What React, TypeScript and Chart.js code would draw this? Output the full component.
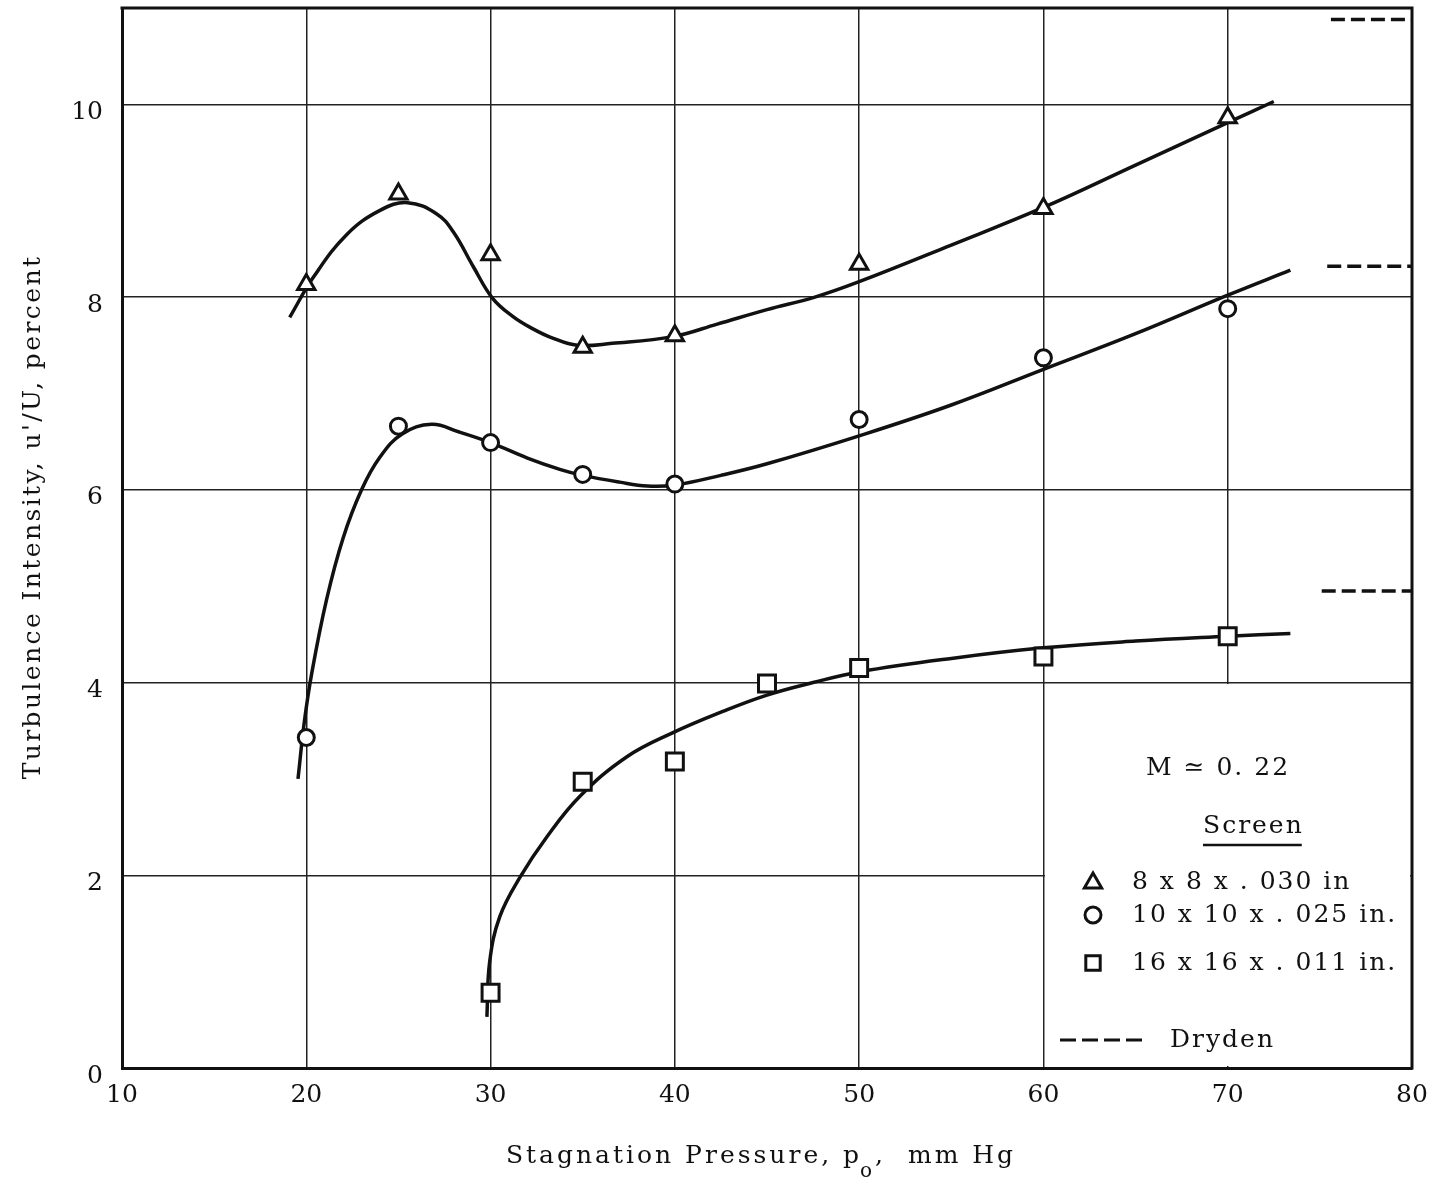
import React, { useEffect, useRef } from 'react';
import { Chart, registerables } from 'chart.js';

Chart.register(...registerables);

// ---- axis ticks ----
const xTicks = [10, 20, 30, 40, 50, 60, 70, 80];
const yTicks = [0, 2, 4, 6, 8, 10];

// ---- measured points (stagnation pressure, turbulence %) ----
const triX = [20, 25, 30, 35, 40, 50, 60, 70];
const triY = [8.13, 9.07, 8.44, 7.48, 7.6, 8.34, 8.92, 9.86];

const circX = [20, 25, 30, 35, 40, 50, 60, 70];
const circY = [3.43, 6.66, 6.49, 6.16, 6.06, 6.73, 7.37, 7.88];

const sqX = [30, 35, 40, 45, 50, 60, 70];
const sqY = [0.78, 2.97, 3.18, 3.99, 4.15, 4.27, 4.48];

// ---- faired curves ----
const triCurveX = [19.1, 20.4, 22.2, 24.0, 25.5, 27.1, 28.0, 29.05, 30.1, 31.2, 32.3, 33.3, 34.7, 36.6, 39.9, 42.3, 45.0, 47.6, 50, 55, 60, 65, 70, 72.5];
const triCurveY = [7.79, 8.21, 8.65, 8.9, 8.98, 8.86, 8.67, 8.32, 7.99, 7.8, 7.67, 7.58, 7.5, 7.52, 7.59, 7.72, 7.87, 8.0, 8.16, 8.54, 8.93, 9.37, 9.81, 10.03];

const circCurveX = [19.55, 19.9, 20.3, 21.1, 22.0, 23.0, 24.0, 25.2, 26.8, 28.3, 30, 32, 33.8, 35, 37, 38.5, 40, 42.5, 45, 50, 55, 60, 65, 70, 73.4];
const circCurveY = [3.0, 3.6, 4.1, 4.86, 5.5, 6.0, 6.34, 6.58, 6.68, 6.6, 6.49, 6.33, 6.21, 6.15, 6.08, 6.04, 6.05, 6.15, 6.27, 6.56, 6.88, 7.25, 7.62, 8.02, 8.28];

const sqCurveX = [29.8, 29.95, 30.5, 31.6, 33.06, 34.85, 37.4, 39.9, 42.6, 45, 47.5, 50, 55, 60, 65, 70, 73.4];
const sqCurveY = [0.53, 1.1, 1.57, 1.98, 2.4, 2.82, 3.23, 3.48, 3.7, 3.87, 4.0, 4.11, 4.25, 4.36, 4.43, 4.48, 4.51];

// ---- Dryden reference levels (short dashes at right edge) ----
const drydenY = [10.88, 8.32, 4.95];
const drydenXStart = [75.6, 75.4, 75.1];
const drydenXEnd = [80, 80, 80];

// ---- legend texts ----
const machLabel = 'M \u2243 0. 22';
const screenLabel = 'Screen';
const seriesLabels = ['8 x 8 x . 030 in', '10 x 10 x . 025 in.', '16 x 16 x . 011 in.'];
const drydenLabel = 'Dryden';
const xTitleMain = 'Stagnation Pressure, p';
const xTitleSub = 'o';
const xTitleTail = ',  mm Hg';
const yTitle = "Turbulence Intensity, u'/U, percent";

// blank (no grid) region holding the legend, in data units
const legendXMin = 60;
const legendYMax = 4;

const FONT = 'DejaVu Serif';
const INK = '#111';

const toPts = (xs: number[], ys: number[]) => xs.map((x, i) => ({ x, y: ys[i] }));

function drawMarker(ctx: CanvasRenderingContext2D, kind: string, cx: number, cy: number, r: number) {
  ctx.beginPath();
  if (kind === 'triangle') {
    ctx.moveTo(cx, cy - r);
    ctx.lineTo(cx + r * 0.866, cy + r * 0.5);
    ctx.lineTo(cx - r * 0.866, cy + r * 0.5);
    ctx.closePath();
  } else if (kind === 'circle') {
    ctx.arc(cx, cy, r * 0.8, 0, Math.PI * 2);
  } else {
    const s = r * 0.72;
    ctx.rect(cx - s, cy - s, 2 * s, 2 * s);
  }
  ctx.fillStyle = '#fff';
  ctx.fill();
  ctx.stroke();
}

const zeroPad = (s: any) => {
  s.paddingTop = 0;
  s.paddingBottom = 0;
  s.paddingLeft = 0;
  s.paddingRight = 0;
};

const framePlugin = {
  id: 'frame',
  beforeDatasetsDraw(chart: any) {
    const { ctx, chartArea: a, scales } = chart;
    const x0 = scales.x.getPixelForValue(legendXMin) + 1.5;
    const y0 = scales.y.getPixelForValue(legendYMax) + 1.5;
    ctx.save();
    ctx.fillStyle = '#fff';
    ctx.fillRect(x0, y0, a.right - 2 - x0, a.bottom - 2 - y0);
    ctx.strokeStyle = INK;
    ctx.lineWidth = 3;
    ctx.beginPath();
    ctx.moveTo(a.left - 1.5, a.top);
    ctx.lineTo(a.right, a.top);
    ctx.lineTo(a.right, a.bottom + 1.5);
    ctx.stroke();
    ctx.restore();
  },
  afterDraw(chart: any) {
    const { ctx } = chart;
    ctx.save();
    ctx.fillStyle = INK;
    ctx.strokeStyle = INK;

    // x title with subscript
    ctx.font = `25px "${FONT}"`;
    (ctx as any).letterSpacing = '3px';
    ctx.textBaseline = 'alphabetic';
    ctx.textAlign = 'left';
    const w1 = ctx.measureText(xTitleMain).width;
    ctx.font = `20px "${FONT}"`;
    const w2 = ctx.measureText(xTitleSub).width;
    ctx.font = `25px "${FONT}"`;
    const w3 = ctx.measureText(xTitleTail).width;
    const total = w1 + w2 + w3;
    let sx = 762 - total / 2;
    const base = 1163;
    ctx.fillText(xTitleMain, sx, base);
    sx += w1;
    ctx.font = `20px "${FONT}"`;
    ctx.fillText(xTitleSub, sx - 2, base + 14);
    sx += w2;
    ctx.font = `25px "${FONT}"`;
    ctx.fillText(xTitleTail, sx - 2, base);

    // y title
    (ctx as any).letterSpacing = '2.4px';
    ctx.save();
    ctx.translate(40, 517);
    ctx.rotate(-Math.PI / 2);
    ctx.textAlign = 'center';
    ctx.fillText(yTitle, 0, 0);
    ctx.restore();

    // legend
    (ctx as any).letterSpacing = '2px';
    ctx.textBaseline = 'middle';
    ctx.textAlign = 'left';
    ctx.fillText(machLabel, 1146, 768);
    ctx.fillText(screenLabel, 1203, 826);
    const sw = ctx.measureText(screenLabel).width;
    ctx.lineWidth = 2.5;
    ctx.beginPath();
    ctx.moveTo(1203, 845);
    ctx.lineTo(1203 + sw - 2, 845);
    ctx.stroke();

    const rowsY = [882, 915, 963];
    const kinds = ['triangle', 'circle', 'rect'];
    ctx.lineWidth = 3;
    for (let i = 0; i < 3; i++) {
      drawMarker(ctx, kinds[i], 1093, rowsY[i] + (kinds[i] === 'triangle' ? 1 : 0), 10);
      ctx.fillStyle = INK;
      ctx.fillText(seriesLabels[i], 1132, rowsY[i]);
    }

    ctx.lineWidth = 3;
    ctx.setLineDash([16, 6]);
    ctx.beginPath();
    ctx.moveTo(1060, 1040);
    ctx.lineTo(1148, 1040);
    ctx.stroke();
    ctx.setLineDash([]);
    ctx.fillText(drydenLabel, 1170, 1040);
    ctx.restore();
  },
};

export default function App() {
  const ref = useRef<HTMLCanvasElement | null>(null);

  useEffect(() => {
    if (!ref.current) return;
    const markerBase = {
      showLine: false,
      pointBackgroundColor: '#fff',
      pointBorderColor: INK,
      pointBorderWidth: 3,
      order: 0,
    };
    const curveBase = {
      showLine: true,
      pointRadius: 0,
      borderColor: INK,
      borderWidth: 3.5,
      tension: 0.4,
      fill: false,
      order: 1,
    };
    const datasets: any[] = [
      { ...markerBase, label: seriesLabels[0], data: toPts(triX, triY), pointStyle: 'triangle', pointRadius: 10 },
      { ...markerBase, label: seriesLabels[1], data: toPts(circX, circY), pointStyle: 'circle', pointRadius: 8 },
      { ...markerBase, label: seriesLabels[2], data: toPts(sqX, sqY), pointStyle: 'rect', pointRadius: 12 },
      { ...curveBase, label: 'tri fair', data: toPts(triCurveX, triCurveY) },
      { ...curveBase, label: 'circ fair', data: toPts(circCurveX, circCurveY) },
      { ...curveBase, label: 'sq fair', data: toPts(sqCurveX, sqCurveY) },
      ...drydenY.map((yv, i) => ({
        label: drydenLabel,
        data: [{ x: drydenXStart[i], y: yv }, { x: drydenXEnd[i], y: yv }],
        showLine: true,
        pointRadius: 0,
        borderColor: INK,
        borderWidth: 3.5,
        borderDash: [14, 6],
        order: 1,
      })),
    ];

    const tickFont = { family: FONT, size: 25 };
    const chart = new Chart(ref.current, {
      type: 'scatter',
      data: { datasets },
      options: {
        animation: false,
        responsive: false,
        events: [],
        layout: { autoPadding: false, padding: { left: 0, right: 20, top: 8, bottom: 0 } },
        plugins: { legend: { display: false }, tooltip: { enabled: false } },
        scales: {
          x: {
            type: 'linear',
            min: 10,
            max: 80,
            afterFit: (s: any) => { s.height = 117; zeroPad(s); },
            afterBuildTicks: (s: any) => { s.ticks = xTicks.map((v) => ({ value: v })); },
            ticks: { font: tickFont, color: INK, padding: 12, maxRotation: 0, autoSkip: false },
            grid: { color: '#222', lineWidth: 1.5, drawTicks: false },
            border: { color: INK, width: 3 },
          },
          y: {
            type: 'linear',
            min: 0,
            max: 11,
            afterFit: (s: any) => { s.width = 122; zeroPad(s); },
            afterBuildTicks: (s: any) => { s.ticks = yTicks.map((v) => ({ value: v })); },
            ticks: { font: tickFont, color: INK, padding: 19, labelOffset: 8, autoSkip: false },
            grid: { color: '#222', lineWidth: 1.5, drawTicks: false },
            border: { color: INK, width: 3 },
          },
        },
      },
      plugins: [framePlugin],
    });
    return () => chart.destroy();
  }, []);

  return (
    <div style={{ position: 'fixed', left: 0, top: 0, width: 1432, height: 1185, background: '#fff' }}>
      <canvas ref={ref} width={1432} height={1185} style={{ display: 'block' }} />
    </div>
  );
}
